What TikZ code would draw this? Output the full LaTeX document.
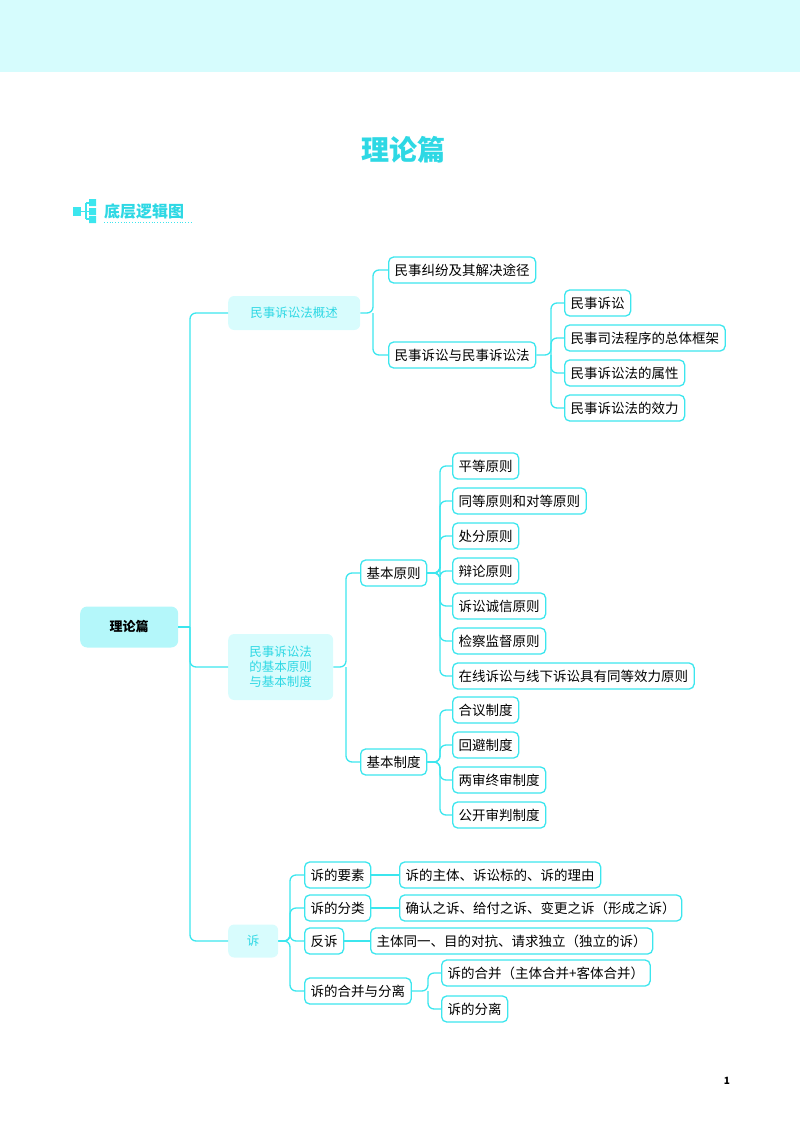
\documentclass[tikz,border=0pt]{standalone}
\usepackage{fontspec}
\setmainfont{Noto Sans CJK SC}
\newfontfamily\cjk{Noto Sans CJK SC}
\begin{document}
\begin{tikzpicture}[x=1pt,y=-1pt,
  leaf/.style={draw=cyanL, rounded corners=5, line width=1.3, fill=white, minimum height=26, inner xsep=6, anchor=west, font=\fontsize{13.5}{15}\selectfont},
  lvone/.style={fill=cyanF, rounded corners=6, text=cyanT, align=center, anchor=west, font=\fontsize{12.5}{15}\selectfont},
  conn/.style={draw=cyanL, line width=1.3, rounded corners=6}]
\definecolor{cyanL}{HTML}{3CE6EE}
\definecolor{cyanF}{HTML}{D8FCFD}
\definecolor{cyanR}{HTML}{B4F7FA}
\definecolor{cyanT}{HTML}{2ED8E4}
\definecolor{band}{HTML}{D6FCFD}
\useasboundingbox (0,0) rectangle (800,1124);
\fill[band] (0,0) rectangle (800,72);
\node[text=cyanT, font=\fontsize{28}{30}\selectfont\bfseries] (title) at (403,150) {理论篇};
% icon
\fill[cyanL] (73,207) rectangle (81,216);
\draw[cyanL, line width=1.5] (81,211.5) -- (86,211.5) (86,203) -- (86,219) (86,203) -- (90,203) (86,211.5) -- (90,211.5) (86,219)--(90,219);
\fill[cyanL] (89,199) rectangle (96,206) (89,208) rectangle (96,215) (89,216) rectangle (96,223);
\node[text=cyanT, font=\fontsize{16}{18}\selectfont\bfseries, anchor=west, inner sep=0] (sub) at (104,211) {底层逻辑图};
\draw[cyanL, dotted, line width=0.8] (104,222) -- (193,222);
% root
\node[fill=cyanR, rounded corners=7, minimum width=98, minimum height=41, anchor=west, font=\fontsize{13}{15}\selectfont\bfseries] (root) at (80,627) {理论篇};
% level 1
\node[lvone, minimum width=132, minimum height=34] (a) at (228,313) {民事诉讼法概述};
\node[lvone, minimum width=105, minimum height=66] (b) at (228,667) {民事诉讼法\\的基本原则\\与基本制度};
\node[lvone, minimum width=50, minimum height=33] (c) at (228,941) {诉};
\draw[conn] (root.east) -- (190,627);
\draw[conn] (a.west) -| (190,627) |- (c.west);
\draw[conn] (190,627) |- (b.west);
% A
\node[leaf] (a1) at (388,270) {民事纠纷及其解决途径};
\node[leaf] (a2) at (388,355) {民事诉讼与民事诉讼法};
\draw[conn] (a.east) -- (373,313) |- (a1.west);
\draw[conn] (373,313) |- (a2.west);
\node[leaf] (a21) at (564,303) {民事诉讼};
\node[leaf] (a22) at (564,338) {民事司法程序的总体框架};
\node[leaf] (a23) at (564,373) {民事诉讼法的属性};
\node[leaf] (a24) at (564,408) {民事诉讼法的效力};
\draw[conn] (a2.east) -- (551,355) |- (a21.west);
\draw[conn] (551,355) |- (a22.west);
\draw[conn] (551,355) |- (a23.west);
\draw[conn] (551,355) |- (a24.west);
% B
\node[leaf] (b1) at (360,573) {基本原则};
\node[leaf] (b2) at (360,762) {基本制度};
\draw[conn] (b.east) -- (346,667) |- (b1.west);
\draw[conn] (346,667) |- (b2.west);
\foreach \n/\y/\t in {p1/466/平等原则, p2/501/同等原则和对等原则, p3/536/处分原则, p4/571/辩论原则, p5/606/诉讼诚信原则, p6/641/检察监督原则, p7/676/在线诉讼与线下诉讼具有同等效力原则}{
  \node[leaf] (\n) at (452,\y) {\t};
  \draw[conn] (b1.east) -- (440,573) |- (\n.west);
}
\foreach \n/\y/\t in {s1/710/合议制度, s2/745/回避制度, s3/780/两审终审制度, s4/815/公开审判制度}{
  \node[leaf] (\n) at (452,\y) {\t};
  \draw[conn] (b2.east) -- (440,762) |- (\n.west);
}
% C
\node[leaf] (c1) at (304,875) {诉的要素};
\node[leaf] (c2) at (304,908) {诉的分类};
\node[leaf] (c3) at (304,941) {反诉};
\node[leaf] (c4) at (304,991) {诉的合并与分离};
\foreach \n in {c1,c2,c3,c4}{\draw[conn] (c.east) -- (290,941) |- (\n.west);}
\node[leaf] (c1a) at (399,875) {诉的主体、诉讼标的、诉的理由};
\node[leaf] (c2a) at (399,908) {确认之诉、给付之诉、变更之诉（形成之诉）};
\node[leaf] (c3a) at (370,941) {主体同一、目的对抗、请求独立（独立的诉）};
\draw[conn] (c1.east) -- (c1a.west);
\draw[conn] (c2.east) -- (c2a.west);
\draw[conn] (c3.east) -- (c3a.west);
\node[leaf] (c4a) at (441,973) {诉的合并（主体合并+客体合并）};
\node[leaf] (c4b) at (441,1009) {诉的分离};
\draw[conn] (c4.east) -- (428,991) |- (c4a.west);
\draw[conn] (428,991) |- (c4b.west);
\node[font=\fontsize{10}{12}\selectfont\bfseries] (pg) at (727,1081) {1};
\end{tikzpicture}
\end{document}
